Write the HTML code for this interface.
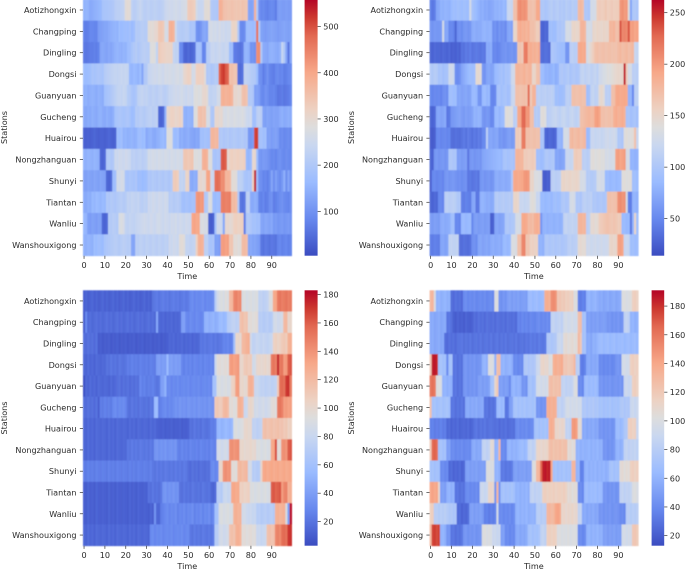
<!DOCTYPE html>
<html>
<head>
<meta charset="utf-8">
<title>Station heatmaps</title>
<style>
html,body{margin:0;padding:0;background:#fff;}
svg{display:block;}
text{font-family:"DejaVu Sans","Liberation Sans",sans-serif;font-size:8.1px;fill:#2a2a2a;}
</style>
</head>
<body>
<svg id="chart" width="685" height="570" viewBox="0 0 685 570" xmlns="http://www.w3.org/2000/svg">
<defs><filter id="soft" x="-2%" y="-2%" width="104%" height="104%"><feGaussianBlur stdDeviation="0.4"/></filter></defs>
</svg>
<script>
const stations=["Aotizhongxin","Changping","Dingling","Dongsi","Guanyuan","Gucheng","Huairou","Nongzhanguan","Shunyi","Tiantan","Wanliu","Wanshouxigong"];
const timeTicks=[0,10,20,30,40,50,60,70,80,90];

const topLeftTicks=[100,200,300,400,500];
const topLeftRange=[4,559];
const topLeftValues=[
[150,155,150,135,140,145,150,155,160,185, 190,190,195,195,200,215,220,220,225,230, 290,295,290,225,215,220,230,240,225,215, 220,225,215,220,225,220,215,220,225,245, 250,255,250,255,260,255,250,260,265,270, 330,335,330,325,260,240,240,245,290,290, 295,205,200,200,195,385,380,355,350,345, 345,350,345,340,345,340,350,345,340,130, 125,130,380,200,100,85,90,80,75,85, 90,85,70,115,120,115,115,120,115,115],
[75,70,75,85,85,80,80,115,120,125, 130,130,140,145,150,155,150,170,165,170, 175,170,180,165,175,210,205,210,215,210, 210,290,295,290,300,305,340,345,335,270, 265,380,385,375,250,215,210,205,210,215, 210,190,195,190,100,95,105,130,135,125, 260,265,255,260,250,265,250,255,245,250, 250,310,315,305,200,90,85,95,170,175, 170,165,175,470,200,125,120,115,120,125, 130,125,120,115,120,125,130,125,120,125],
[65,60,65,70,70,75,70,80,130,135, 130,125,135,130,140,150,155,150,145,155, 150,170,175,190,200,210,195,205,215,220, 215,210,280,285,275,230,335,325,320,315, 310,310,315,235,225,230,90,85,40,35, 45,35,40,50,180,185,175,80,85,210, 215,240,245,235,240,250,240,235,245,240, 170,175,70,65,60,55,65,150,155,145, 100,105,95,430,435,200,140,135,130,145, 150,145,140,135,150,240,200,130,60,130],
[170,165,170,175,190,185,190,195,190,185, 210,215,220,225,230,235,230,235,240,235, 240,235,160,155,165,160,150,170,130,200, 205,240,245,250,255,250,260,255,250,265, 260,265,260,255,265,270,260,265,300,310, 320,315,260,265,320,325,315,320,290,200, 205,195,200,210,205,480,510,520,490,480, 350,355,345,340,50,45,55,230,225,220, 210,205,200,170,100,95,70,85,100,80, 75,70,85,90,80,85,70,75,85,90],
[145,150,140,145,150,145,140,150,145,140, 180,185,190,200,210,220,230,235,230,240, 235,210,205,190,185,195,225,230,235,225, 230,220,215,225,220,215,225,230,220,215, 225,240,245,250,255,250,255,260,250,245, 255,250,245,280,285,275,280,300,305,295, 230,225,235,230,255,260,380,385,375,380, 385,375,300,305,295,300,350,355,345,200, 205,195,120,125,115,90,85,100,95,80, 80,85,75,60,65,70,60,65,70,80],
[135,130,140,135,145,140,135,145,150,140, 135,145,140,135,145,185,190,195,190,185, 190,195,185,170,175,210,205,215,210,205, 215,220,225,215,220,225,40,35,45,150, 300,310,320,315,305,310,320,305,150,145, 155,150,145,280,285,350,355,345,350,270, 265,200,195,300,305,295,300,270,265,275, 270,265,275,270,265,270,275,265,250,245, 255,180,175,220,225,215,125,120,130,125, 120,130,125,125,140,145,135,140,145,140],
[35,30,35,30,35,40,35,30,35,35, 30,35,40,35,30,35,170,165,175,150, 155,145,150,155,145,150,170,175,165,170, 135,145,150,140,135,145,150,160,165,155, 280,285,275,170,165,175,140,145,135,140, 145,135,130,125,135,130,180,175,185,180, 175,370,375,365,370,200,205,195,200,205, 195,200,205,200,195,200,205,195,200,110, 105,115,510,515,180,185,175,180,120,125, 115,120,125,115,90,95,85,90,95,85],
[150,145,155,150,145,155,150,145,40,35, 45,200,205,195,200,250,245,255,250,245, 255,250,245,220,225,215,220,225,215,220, 225,260,255,265,260,255,265,260,255,265, 260,255,265,260,255,265,260,255,340,345, 335,340,345,280,285,275,280,380,385,375, 280,285,190,185,195,190,490,495,485,300, 320,325,315,320,325,315,320,325,160,155, 165,300,305,170,110,105,115,110,105,95, 85,90,80,95,100,90,85,95,90,85],
[125,120,130,125,120,130,125,120,130,125, 120,40,35,45,170,175,260,255,265,260, 190,185,195,190,185,195,170,175,165,170, 175,200,195,205,200,195,205,200,195,205, 200,195,205,330,335,325,230,235,225,310, 315,140,135,145,140,300,305,295,300,400, 405,250,245,470,475,465,430,435,370,375, 365,290,295,285,220,225,215,190,185,195, 190,320,540,170,100,95,80,85,75,90, 130,95,120,100,90,110,145,95,130,100],
[140,135,145,140,160,155,165,160,155,165, 160,200,195,205,200,195,205,210,215,205, 210,230,225,235,230,225,235,220,215,225, 220,250,245,255,250,245,255,250,245,255, 250,210,215,205,210,215,205,180,175,185, 180,175,185,180,420,425,415,420,200,205, 280,275,170,165,175,170,450,455,445,450, 455,360,365,355,200,60,55,65,220,225, 140,135,145,140,80,75,85,70,75,95, 100,70,75,85,95,100,90,85,80,95],
[160,155,120,115,125,120,115,125,120,40, 35,45,210,205,215,210,205,270,275,265, 230,225,235,230,225,235,240,245,250,255, 250,245,255,250,245,255,260,250,245,255, 250,245,255,250,260,245,255,250,245,255, 250,245,400,405,395,400,270,275,265,270, 30,25,35,180,250,255,245,130,300,305, 295,300,320,325,315,320,325,70,200,205, 195,180,185,175,180,130,125,135,130,125, 135,110,115,105,110,115,105,110,115,105],
[150,145,155,150,145,170,165,175,170,165, 190,195,200,205,210,215,210,205,215,220, 215,210,215,130,125,220,215,225,220,215, 225,220,215,225,220,215,225,220,215,225, 220,250,245,255,250,245,290,295,285,230, 235,225,230,235,320,380,385,375,220,225, 190,185,195,120,125,115,410,415,405,410, 340,345,290,295,285,290,360,365,355,130, 135,125,130,120,115,60,55,65,60,55, 65,60,55,80,85,75,80,85,75,80]
];

const topRightTicks=[50,100,150,200,250];
const topRightRange=[14,263];
const topRightValues=[
[45,40,45,70,72,80,78,82,80,78, 85,90,88,92,90,88,92,90,88,130, 95,90,85,80,75,78,72,75,70,72, 75,80,78,82,80,85,82,120,122,118, 170,172,205,208,202,205,200,170,172,168, 172,190,192,100,102,98,100,105,108,102, 105,108,102,105,100,108,105,102,108,105, 105,175,178,172,100,102,98,130,128,132, 160,162,158,160,165,158,160,162,158,160, 160,200,205,198,200,140,70,100,102,98],
[60,58,62,60,60,62,130,70,72,50, 52,48,30,55,57,53,60,62,58,60, 75,77,73,75,75,80,82,78,80,80, 55,58,52,60,55,58,52,70,72,68, 150,152,185,188,182,185,180,185,170,172, 168,160,162,30,28,32,30,90,92,88, 90,100,98,102,100,130,132,128,150,152, 148,150,180,182,178,130,132,128,150,148, 152,150,148,152,150,150,180,178,182,170, 172,235,210,212,208,235,195,198,192,195],
[30,28,32,30,30,28,32,30,28,32, 25,28,26,30,27,38,36,42,40,45, 38,40,42,40,38,42,40,75,73,77, 50,52,48,50,55,58,60,56,58,60, 56,58,165,168,162,215,218,185,188,182, 185,180,188,35,33,37,35,32,100,98, 95,92,90,88,90,60,58,110,112,108, 110,190,192,188,190,130,140,150,160,170, 172,168,170,172,168,170,172,168,170,168, 175,178,172,175,178,172,175,178,120,118],
[105,102,108,105,95,98,92,95,96,125, 128,122,55,53,57,70,75,80,85,90, 88,90,145,148,142,60,58,70,72,68, 70,85,88,92,95,90,98,95,100,125, 128,180,182,178,180,184,176,180,182,150, 152,170,172,90,88,80,82,78,80,84, 76,80,100,102,98,100,104,96,100,102, 98,100,115,118,112,115,118,112,115,118, 112,125,128,132,135,140,138,142,145,148, 150,148,150,255,160,130,132,110,112,108],
[50,48,52,50,52,48,55,57,53,90, 92,88,90,70,72,68,70,72,68,70, 85,87,83,60,58,85,88,82,85,50, 48,52,95,98,92,95,98,92,95,120, 122,170,172,168,170,172,168,225,160,180, 182,110,112,108,110,112,108,110,112,108, 90,92,88,90,92,110,112,108,170,172, 168,170,172,168,170,90,92,115,118,112, 115,145,148,142,110,112,108,170,172,190, 192,188,190,192,188,80,82,50,110,112],
[30,28,32,70,72,68,70,74,40,42, 60,62,65,68,70,65,62,68,64,66, 70,80,78,82,80,60,58,62,60,50, 52,85,88,82,85,88,140,142,138,140, 110,112,190,192,225,228,200,202,170,172, 105,108,102,140,142,138,110,112,115,118, 120,115,112,118,120,115,112,118,120,115, 112,118,170,172,175,178,180,176,178,195, 198,192,170,172,168,170,172,168,185,188, 182,185,188,182,95,98,92,95,98,92],
[25,23,27,50,52,48,50,52,48,50, 35,33,37,35,34,38,42,36,44,40, 36,42,38,44,40,50,52,110,70,72, 68,70,72,60,62,58,60,65,67,63, 65,160,162,158,215,218,170,172,168,170, 172,168,170,95,97,30,28,32,30,28, 32,80,82,78,130,132,128,175,178,172, 175,178,172,175,178,85,87,120,122,118, 120,122,118,120,125,127,123,125,127,123, 100,102,98,140,142,138,140,142,170,120],
[30,28,60,62,58,60,62,58,60,100, 102,98,100,65,67,63,65,67,40,60, 62,58,60,62,58,70,72,74,76,78, 80,82,84,85,83,95,97,93,95,97, 93,180,182,178,180,160,162,158,160,162, 158,90,92,88,90,100,102,98,100,102, 70,72,68,70,72,120,122,118,120,160, 162,158,160,110,112,108,110,140,142,138, 140,142,138,140,130,132,128,130,132,195, 198,192,195,198,130,132,80,82,78,80],
[25,50,52,48,50,52,48,60,62,58, 60,62,58,55,57,53,55,57,40,42, 38,40,42,38,60,62,58,60,62,58, 60,75,77,73,75,77,73,75,77,100, 190,192,188,190,192,200,202,198,150,152, 135,137,133,135,25,23,27,25,110,112, 108,110,112,150,152,148,150,152,148,150, 152,148,130,132,128,105,107,103,105,107, 130,132,128,130,85,87,83,85,87,83, 85,87,140,142,138,140,142,90,92,88],
[30,28,32,30,50,52,48,110,112,108, 110,112,108,100,102,45,43,47,45,43, 70,72,40,42,80,82,78,75,77,73, 75,105,107,103,105,107,103,105,107,103, 150,152,148,120,122,118,120,122,140,142, 138,120,122,85,87,83,85,87,83,90, 92,88,90,100,102,98,100,130,132,128, 100,102,98,110,112,108,110,112,100,102, 98,100,102,98,100,170,172,168,170,172, 205,208,202,205,130,45,43,80,82,78],
[65,63,67,65,63,75,77,73,75,77, 90,92,50,52,48,85,87,83,85,87, 50,65,67,63,65,67,63,65,67,25, 27,70,72,68,70,72,100,102,98,100, 102,130,132,128,190,192,188,175,177,173, 185,187,183,60,80,82,78,80,82,78, 80,82,78,80,115,117,113,115,117,113, 115,180,182,178,180,110,112,145,147,143, 145,160,162,165,168,170,166,164,168,165, 160,162,85,87,83,85,40,80,150,90],
[45,43,47,45,43,70,72,68,70,115, 117,113,115,118,35,33,37,35,33,37, 55,57,53,70,72,68,70,72,68,75, 77,73,75,77,73,85,87,83,85,135, 137,133,170,172,210,212,165,167,155,157, 153,155,80,82,78,100,102,98,100,102, 98,100,102,98,100,102,110,112,108,110, 112,145,147,143,145,125,127,123,125,127, 123,125,127,123,125,127,150,152,148,150, 195,197,193,120,122,118,90,92,88,90]
];

const bottomLeftTicks=[20,40,60,80,100,120,140,160,180];
const bottomLeftRange=[3,183];
const bottomLeftValues=[
[12,14,11,13,15,12,14,11,13,15, 12,14,11,13,15,12,14,11,13,15, 12,14,11,13,15,12,14,11,13,15, 12,14,11,20,22,24,21,23,25,22, 24,21,23,25,22,24,21,23,25,22, 24,30,32,28,31,29,30,33,28,31, 30,29,32,70,85,90,92,88,95,90, 120,122,145,148,142,145,90,92,88,90, 92,88,90,92,75,77,73,75,77,90, 92,130,132,150,152,148,150,152,148,150],
[10,30,16,18,15,17,19,16,18,15, 17,19,16,18,15,17,19,16,18,15, 17,19,16,18,15,17,19,16,18,15, 17,19,16,18,15,45,15,14,16,13, 15,14,16,13,15,14,16,40,42,30, 28,32,30,28,32,30,28,30,50,52, 48,50,52,48,50,55,57,53,55,70, 72,75,77,73,75,115,118,112,115,95, 97,93,95,97,70,72,68,70,72,68, 70,85,87,83,85,87,120,122,100,102],
[18,16,20,17,19,16,20,10,12,9, 11,10,12,9,11,10,12,9,11,10, 12,9,11,10,12,9,11,10,12,9, 11,10,12,9,11,10,12,9,11,10, 12,15,14,16,13,15,14,16,13,15, 14,16,13,15,14,15,22,21,23,20, 22,24,21,23,20,22,23,28,27,29, 26,28,60,100,102,98,120,122,125,127, 85,75,77,80,78,76,79,77,75,78, 80,105,107,103,105,110,112,108,125,127],
[15,13,17,14,16,13,17,15,14,16, 15,20,18,22,19,21,18,22,20,19, 21,25,23,27,24,26,23,27,25,24, 26,23,27,25,24,40,42,38,41,39, 55,40,42,38,41,39,40,28,26,30, 27,29,26,30,28,27,29,26,30,28, 27,29,26,80,95,97,93,95,97,93, 135,137,133,135,138,100,102,110,112,108, 110,85,87,100,102,98,100,102,98,100, 150,152,148,175,150,152,135,137,160,162],
[5,15,13,17,14,16,13,17,15,14, 16,15,13,17,14,16,18,20,16,19, 17,20,16,19,17,20,18,30,25,27, 23,26,24,27,23,20,22,40,42,50, 30,32,28,31,29,32,28,30,31,29, 32,28,30,31,29,32,28,30,31,29, 32,28,60,62,90,92,88,90,92,88, 90,105,107,135,137,100,102,98,100,125, 127,123,80,82,78,75,77,73,75,77, 73,75,77,110,155,157,153,170,172,150],
[18,16,20,17,19,16,20,12,25,23, 27,24,26,23,30,32,28,31,29,32, 28,20,18,22,19,21,18,22,20,19, 21,18,22,20,55,57,25,27,30,32, 28,31,29,32,35,33,37,34,36,33, 37,35,34,36,33,37,35,34,36,33, 37,35,34,110,112,108,110,120,122,118, 95,97,93,95,125,127,123,80,82,100, 102,98,85,87,83,85,87,83,85,87, 95,97,93,150,152,148,135,137,133,135],
[15,13,17,14,16,13,17,15,14,16, 15,13,17,14,16,13,17,15,14,16, 15,13,17,14,16,13,17,15,14,16, 15,13,17,14,16,13,12,11,13,10, 12,11,13,10,12,11,13,10,12,11, 13,20,18,22,19,21,18,22,20,19, 21,25,24,26,52,54,50,52,55,53, 51,54,90,92,88,90,92,100,102,98, 100,75,77,73,75,77,115,117,113,115, 117,113,115,117,113,115,110,112,105,107],
[15,13,17,14,16,13,17,15,14,16, 15,13,17,14,16,13,17,15,14,16, 15,22,20,24,21,23,20,24,22,21, 23,20,24,21,35,37,33,36,34,37, 33,35,36,34,37,27,25,29,26,28, 25,29,27,26,28,25,29,27,26,28, 25,29,27,26,85,87,83,85,87,83, 140,142,138,140,142,100,102,98,100,100, 102,98,100,90,92,88,90,92,88,90, 130,132,165,95,97,140,142,138,160,162],
[25,23,27,24,26,23,27,25,24,26, 25,23,27,24,26,23,27,25,24,26, 25,23,27,24,26,23,27,25,24,26, 25,23,27,22,20,24,21,23,20,24, 22,21,23,20,24,21,23,20,24,22, 18,16,20,17,19,16,20,18,17,19, 18,30,32,28,30,100,102,140,142,138, 140,95,97,93,120,122,118,120,122,85, 87,70,72,68,70,100,130,132,128,130, 132,128,130,132,128,130,132,128,130,132],
[12,10,14,11,13,10,14,12,11,13, 12,10,14,11,13,10,14,12,11,13, 12,10,14,11,13,10,14,12,11,13, 12,20,18,22,19,21,18,22,35,37, 33,36,34,37,33,35,20,18,22,19, 21,18,22,20,19,21,18,22,20,19, 21,15,13,17,70,72,68,80,82,78, 80,130,132,128,130,105,107,103,105,107, 90,92,88,90,92,88,90,92,88,90, 160,162,158,160,162,135,145,147,125,127],
[12,10,14,11,13,10,14,12,11,13, 12,10,14,11,13,10,14,12,11,13, 12,10,14,11,13,10,14,12,11,13, 12,10,14,11,35,15,14,25,27,30, 32,28,31,29,33,26,30,28,32,27, 31,29,33,26,30,28,32,27,31,29, 33,26,30,60,62,90,92,88,90,92, 88,90,125,127,123,125,85,87,83,80, 82,78,80,70,72,68,70,72,68,70, 72,68,125,127,123,125,127,90,40,180],
[15,13,17,14,16,13,17,15,14,16, 15,13,17,14,16,13,17,15,14,16, 15,13,17,14,16,13,17,15,14,16, 15,13,30,32,28,31,29,32,28,30, 31,29,32,28,30,31,29,32,28,30, 31,22,20,24,21,23,20,24,22,21, 23,20,24,70,72,85,87,83,85,87, 115,117,113,125,127,123,95,97,93,95, 97,93,95,80,82,78,80,82,115,117, 113,115,145,147,143,155,157,153,170,172]
];

const bottomRightTicks=[20,40,60,80,100,120,140,160,180];
const bottomRightRange=[13,191];
const bottomRightValues=[
[130,132,100,60,62,58,60,62,58,60, 28,26,30,27,29,26,40,42,38,41, 39,42,38,40,41,39,42,38,40,42, 38,100,102,45,43,47,44,50,52,48, 51,49,52,48,50,51,49,65,67,63, 65,67,63,65,67,135,137,133,150,152, 148,120,122,118,120,115,117,113,115,100, 102,35,33,37,35,60,62,58,60,62, 58,55,57,53,55,57,53,55,57,53, 55,57,100,102,98,100,102,115,117,113],
[55,57,53,55,57,53,55,57,30,32, 28,22,20,24,21,23,20,24,22,21, 23,28,26,30,27,29,26,30,28,27, 29,26,30,28,27,29,26,30,28,27, 29,26,38,36,40,37,39,36,40,38, 37,40,42,38,41,39,42,38,85,87, 83,85,87,83,95,97,93,95,97,93, 95,125,127,70,72,50,52,48,51,49, 52,48,50,51,49,45,47,43,46,44, 47,43,45,85,87,83,60,62,58,60],
[55,57,53,55,57,53,55,28,26,30, 27,29,26,30,30,32,28,31,29,32, 28,30,31,29,32,28,30,31,29,32, 28,30,32,28,31,29,32,28,30,31, 29,32,28,30,31,29,32,30,34,31, 33,30,34,32,31,33,75,77,73,75, 77,90,92,88,105,107,103,105,107,103, 105,130,120,70,72,55,57,53,60,58, 62,65,67,63,65,67,63,65,67,63, 65,65,67,63,65,67,63,65,67,63],
[120,185,187,183,70,72,68,70,40,70, 72,30,32,28,31,29,45,47,43,46, 44,47,43,45,46,60,62,58,100,102, 98,60,125,127,60,62,58,60,62,58, 40,42,38,41,39,75,77,73,76,74, 77,90,92,110,112,108,110,100,102,135, 137,133,135,138,120,122,118,120,122,130, 80,82,35,33,37,55,57,53,56,54, 57,40,42,38,41,39,42,38,40,45, 47,43,95,97,93,95,115,117,113,115],
[160,162,158,100,102,98,60,62,58,61, 59,30,32,28,31,29,45,47,43,46, 44,47,43,50,52,48,51,49,52,70, 72,110,120,50,52,48,51,49,40,60, 62,58,61,59,45,47,43,70,72,68, 71,95,97,93,96,94,97,125,127,123, 126,124,127,85,87,83,86,84,87,100, 102,40,42,38,65,67,63,66,64,67, 63,45,47,43,46,44,47,43,45,46, 44,47,43,90,92,88,91,115,117,113],
[125,70,72,68,70,72,68,70,72,68, 30,32,28,31,29,32,28,55,57,53, 56,54,57,53,55,56,30,32,28,31, 29,32,65,67,63,66,30,32,50,52, 70,72,68,71,69,72,68,70,71,69, 72,45,47,43,46,44,135,137,133,136, 134,85,87,83,86,95,97,93,96,94, 97,93,95,75,77,73,76,74,77,73, 75,70,72,68,71,69,72,68,70,71, 69,75,77,73,76,74,90,92,88,91],
[35,37,33,36,34,37,33,35,25,27, 23,26,24,27,23,25,26,24,27,23, 25,30,32,28,31,29,32,28,30,31, 29,28,30,26,29,27,30,26,28,29, 27,40,42,38,41,39,42,38,40,41, 70,72,68,71,69,72,68,135,137,133, 110,112,108,111,109,85,87,83,145,147, 143,105,107,55,57,53,56,54,57,53, 55,45,47,43,46,44,47,43,45,65, 67,63,66,75,77,115,117,113,116,90],
[120,165,167,163,70,72,68,71,50,52, 40,42,38,41,39,42,38,40,41,39, 55,57,53,56,54,85,87,83,86,105, 107,60,62,130,40,42,38,60,62,58, 61,59,62,65,67,63,66,85,87,83, 86,110,112,108,111,109,112,125,127,123, 126,124,127,123,125,126,105,107,103,106, 60,62,58,61,59,60,62,58,61,59, 62,58,60,45,47,43,46,44,47,60, 62,58,61,85,87,83,86,84,87,83],
[70,72,68,71,69,40,42,38,41,25, 27,23,26,24,27,23,25,50,52,48, 51,49,52,48,50,51,49,100,102,98, 101,60,62,58,32,34,30,33,31,34, 50,52,48,51,50,52,48,51,50,100, 102,130,132,165,185,187,183,186,140,70, 72,68,71,69,72,68,71,69,130,132, 60,62,35,37,60,62,58,61,59,62, 58,61,59,62,58,60,70,72,68,71, 69,105,107,103,106,104,115,117,113,116],
[140,142,138,141,110,50,52,48,60,62, 58,61,30,32,28,31,29,40,42,38, 41,39,42,38,90,92,88,91,110,112, 108,45,130,45,70,72,68,71,69,72, 68,60,62,58,61,59,62,58,85,87, 83,86,84,87,115,117,113,116,114,117, 113,115,116,114,117,113,105,107,103,106, 104,40,42,38,65,67,63,66,65,67, 63,66,64,45,47,43,46,44,47,43, 45,85,87,83,86,84,87,100,102,98],
[115,117,80,82,78,81,79,82,78,75, 77,73,76,25,27,23,26,24,27,50, 52,48,51,49,52,48,35,37,33,36, 34,37,95,40,42,38,41,39,42,38, 41,60,62,58,61,59,62,58,60,61, 59,80,82,78,81,79,130,132,128,131, 140,142,138,110,112,108,111,109,112,108, 110,85,87,55,57,53,56,54,57,53, 55,45,47,43,46,44,47,43,45,46, 44,40,42,38,80,82,78,81,79,82],
[130,175,177,173,176,60,62,58,45,47, 30,32,28,31,29,32,45,47,43,46, 44,47,43,45,46,100,102,98,101,99, 90,92,88,91,50,52,40,42,38,41, 39,55,57,53,56,54,57,70,72,68, 71,69,72,85,87,83,115,117,113,116, 114,100,102,98,101,99,102,98,100,101, 99,40,42,38,41,60,62,58,61,59, 62,58,60,50,52,48,51,49,52,48, 50,49,95,97,93,96,94,120,122,118]
];

const colormapStops=[[0,59,76,192],[0.07,80,106,216],[0.143,103,136,238],[0.286,154,187,255],[0.429,201,215,240],[0.5,221,221,221],[0.571,237,209,194],[0.714,247,168,137],[0.857,226,105,82],[0.93,204,56,47],[1,180,4,38]];

const NS="http://www.w3.org/2000/svg";
const chart=document.getElementById("chart");

function colorFor(t){
  t=Math.max(0,Math.min(1,t));
  for(let i=1;i<colormapStops.length;i++){
    const a=colormapStops[i-1],b=colormapStops[i];
    if(t<=b[0]){
      const f=(t-a[0])/(b[0]-a[0]);
      return "rgb("+[1,2,3].map(function(k){return Math.round(a[k]+(b[k]-a[k])*f);}).join(",")+")";
    }
  }
  return "rgb(180,4,38)";
}

function make(tag,attrs,parent){
  const el=document.createElementNS(NS,tag);
  Object.keys(attrs).forEach(function(k){el.setAttribute(k,attrs[k]);});
  (parent||chart).appendChild(el);
  return el;
}

(function buildGradient(){
  const defs=chart.querySelector("defs");
  const g=make("linearGradient",{id:"cbar",x1:"0",y1:"1",x2:"0",y2:"0"},defs);
  colormapStops.forEach(function(s){
    make("stop",{offset:s[0],"stop-color":"rgb("+s[1]+","+s[2]+","+s[3]+")"},g);
  });
})();

function drawPanel(name,values,range,cbarTicks,box){
  const group=make("g",{});
  
  
  const nCols=100,nRows=stations.length;
  const xScale=function(i){return box.left+(box.right-box.left)*i/nCols;};
  const yScale=function(r){return box.top+(box.bottom-box.top)*r/nRows;};
  const cScale=function(v){return (v-range[0])/(range[1]-range[0]);};
  const cbarY=function(v){return box.bottom-(box.bottom-box.top)*cScale(v);};

  const cells=make("g",{filter:"url(#soft)"},group);
  
  
  values.forEach(function(row,r){
    row.forEach(function(v,i){
      const cell=make("rect",{x:xScale(i),y:yScale(r),width:xScale(i+1)-xScale(i)+0.4,height:yScale(r+1)-yScale(r)+0.4,fill:colorFor(cScale(v))},cells);
      
      
    });
  });

  stations.forEach(function(s,r){
    const y=yScale(r+0.5);
    const tick=make("line",{x1:box.left-3.2,x2:box.left,y1:y,y2:y,stroke:"#333","stroke-width":0.7},group);
    
    
    const label=make("text",{x:box.left-6.5,y:y+3,"text-anchor":"end"},group);
    
    
    label.textContent=s;
  });

  timeTicks.forEach(function(t){
    const x=xScale(t+0.5);
    const tick=make("line",{x1:x,x2:x,y1:box.bottom,y2:box.bottom+3.2,stroke:"#333","stroke-width":0.7},group);
    
    
    const label=make("text",{x:x,y:box.bottom+12.5,"text-anchor":"middle"},group);
    
    
    label.textContent=t;
  });

  const xTitle=make("text",{x:(box.left+box.right)/2,y:box.bottom+23.5,"text-anchor":"middle"},group);
  
  
  xTitle.textContent="Time";

  const yMid=(box.top+box.bottom)/2;
  const yTitle=make("text",{x:box.titleX,y:yMid,"text-anchor":"middle",transform:"rotate(-90 "+box.titleX+" "+yMid+")"},group);
  
  
  yTitle.textContent="Stations";

  const bar=make("rect",{x:box.cbarLeft,y:box.top,width:box.cbarWidth,height:box.bottom-box.top,fill:"url(#cbar)"},group);
  
  
  cbarTicks.forEach(function(v){
    const y=cbarY(v);
    const right=box.cbarLeft+box.cbarWidth;
    const tick=make("line",{x1:right,x2:right+3.2,y1:y,y2:y,stroke:"#333","stroke-width":0.7},group);
    
    
    const label=make("text",{x:right+5.6,y:y+3},group);
    
    
    label.textContent=v;
  });
}

const leftColumn={left:83,right:291.6,titleX:7,cbarLeft:304.6,cbarWidth:13};
const rightColumn={left:429.6,right:638.2,titleX:354,cbarLeft:651.6,cbarWidth:12.6};
const topRow={top:-0.7,bottom:255.7};
const bottomRow={top:290.3,bottom:545.7};

drawPanel("heatmap-top-left",topLeftValues,topLeftRange,topLeftTicks,Object.assign({},leftColumn,topRow));
drawPanel("heatmap-top-right",topRightValues,topRightRange,topRightTicks,Object.assign({},rightColumn,topRow));
drawPanel("heatmap-bottom-left",bottomLeftValues,bottomLeftRange,bottomLeftTicks,Object.assign({},leftColumn,bottomRow));
drawPanel("heatmap-bottom-right",bottomRightValues,bottomRightRange,bottomRightTicks,Object.assign({},rightColumn,bottomRow));
</script>
</body>
</html>
